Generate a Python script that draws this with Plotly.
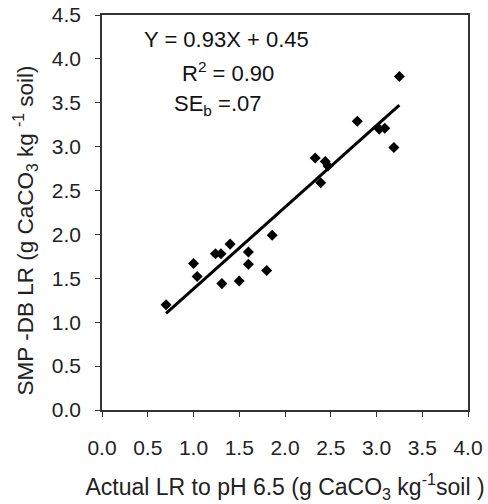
import plotly.graph_objects as go

# actual LR (x) vs SMP-DB LR (y), g CaCO3 per kg soil
actual_lr = [0.70, 1.00, 1.04, 1.24, 1.30, 1.31, 1.40, 1.50, 1.60, 1.60, 1.80, 1.86,
             2.33, 2.39, 2.44, 2.47, 2.79, 3.03, 3.09, 3.19, 3.25]
smp_db_lr = [1.20, 1.67, 1.52, 1.78, 1.78, 1.44, 1.89, 1.47, 1.80, 1.66, 1.59, 1.99,
             2.87, 2.59, 2.83, 2.78, 3.29, 3.20, 3.21, 2.99, 3.80]

slope = 0.93
intercept = 0.45
x_ticks = [0.0, 0.5, 1.0, 1.5, 2.0, 2.5, 3.0, 3.5, 4.0]
y_ticks = [0.0, 0.5, 1.0, 1.5, 2.0, 2.5, 3.0, 3.5, 4.0, 4.5]

font_family = "Liberation Sans, Arial, sans-serif"

fig = go.Figure()

xl = [min(actual_lr), max(actual_lr)]
fig.add_trace(go.Scatter(x=xl, y=[slope * v + intercept for v in xl], mode="lines",
                         line=dict(color="black", width=3), hoverinfo="skip"))
fig.add_trace(go.Scatter(x=actual_lr, y=smp_db_lr, mode="markers",
                         marker=dict(symbol="diamond", size=8.5, color="black")))

axis_common = dict(showgrid=False, zeroline=False, showline=True, linecolor="#333",
                   linewidth=1.5, mirror=True, ticks="outside", ticklen=5, tickwidth=1.2,
                   tickcolor="#333", tickformat=".1f", automargin=False,
                   ticklabeloverflow="allow",
                   tickfont=dict(size=21, color="#222"))

fig.update_xaxes(range=[0, 4], tickvals=x_ticks, ticklabelstandoff=13,
                 title=dict(text="Actual LR to pH 6.5 (g CaCO<sub>3</sub> kg<sup>-1</sup>soil )",
                            font=dict(size=23, color="#222"), standoff=21),
                 **axis_common)
fig.update_yaxes(range=[0, 4.5], tickvals=y_ticks, ticklabelstandoff=10,
                 **axis_common)

# y title as annotation, it sits a bit below the plot's middle
fig.add_annotation(xref="paper", yref="paper", x=-0.21, y=0.455, textangle=-90,
                   xanchor="center", yanchor="middle",
                   text="SMP -DB LR (g CaCO<sub>3</sub> kg <sup>-1</sup> soil)",
                   showarrow=False, font=dict(size=22.5, color="#222"))

ann_font = dict(size=22, color="#111", family=font_family)
fig.add_annotation(x=0.437, y=4.22, xanchor="left", text="Y = 0.93X + 0.45",
                   showarrow=False, font=ann_font)
fig.add_annotation(x=0.855, y=3.85, xanchor="left", text="R<sup>2</sup> = 0.90",
                   showarrow=False, font=ann_font)
fig.add_annotation(x=0.764, y=3.48, xanchor="left", text="SE<sub>b</sub> =.07",
                   showarrow=False, font=ann_font)

fig.update_layout(width=488, height=504, showlegend=False,
                  plot_bgcolor="white", paper_bgcolor="white",
                  font=dict(family=font_family),
                  margin=dict(l=102, r=20, t=15, b=94))

# drop the page's default 8px body margin so the figure fills the window
fig.write_html("out.html", config={"displayModeBar": False},
               post_script="document.body.style.margin='0';")
